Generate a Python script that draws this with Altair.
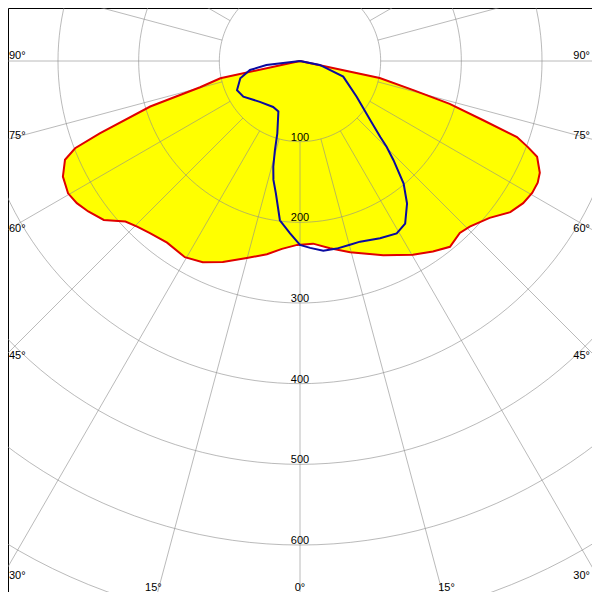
import altair as alt
import pandas as pd

# Luminous intensity (cd) vs angle gamma (deg, 0 = straight down, negative = left)
RED_ANGLES = [-90, -77.8, -75.3, -73.1, -70.1, -68.8, -67.2, -64.0, -60.3, -57.5,
              -54.6, -51.0, -47.4, -44.5, -41.1, -36.2, -30.4, -25.8, -21.0, -15.1,
              -9.7, -5.5, -0.9, 4.1, 9.1, 14.7, 23.2, 30.2, 34.9, 38.9,
              42.9, 45.7, 50.4, 54.3, 57.5, 60.4, 62.9, 65.0, 68.0, 69.3,
              70.7, 72.1, 74.0, 75.6, 78.0, 90]
RED_CD = [0, 101, 128, 194, 264, 299, 316, 327, 331, 328,
          322, 313, 294, 288, 283, 279, 282, 277, 267, 253,
          243, 234, 228, 227, 235, 245, 262, 278, 288, 296,
          291, 294, 305, 321, 328, 331, 331, 328, 317, 302,
          285, 238, 193, 145, 101, 0]

BLUE_ANGLES = [-90, -83.1, -79.8, -73.9, -65.2, -57.8, -44.5, -30.3, -23.2, -17.4,
               -15.7, -14.2, -12.6, -10.3, -7.2, -3.3, 0, 3.1, 7.0, 11.1,
               15.2, 18.4, 24.3, 29.3, 32.9, 36.9, 40.2, 43.3, 45.3, 46.6,
               49.9, 57.8, 70.1, 78.7, 90]
BLUE_CD = [0, 42, 63, 77, 86, 83, 71, 66, 68, 94,
           115, 135, 151, 167, 199, 214, 228, 232, 237, 237,
           236, 236, 241, 245, 240, 221, 199, 169, 151, 137,
           114, 83, 57, 25, 0]

GRID_RADII = [100, 200, 300, 400, 500, 600, 700, 800]
RING_LABELS = [100, 200, 300, 400, 500, 600]
SPOKE_ANGLES = list(range(0, 360, 15))
SIDE_ANGLES = [90, 75, 60, 45, 30]
BOTTOM_ANGLES = [-15, 0, 15]

# geometry of the view
PX_PER_CD = 0.8067
W = H = 584
CX, CY = 292, 53          # centre inside the view, px
XDOM = [-CX / PX_PER_CD, (W - CX) / PX_PER_CD]
YDOM = [-(H - CY) / PX_PER_CD, CY / PX_PER_CD]
EDGE_X = (CX + 8) / PX_PER_CD        # image edge (left/right)
EDGE_Y = (H - CY + 16) / PX_PER_CD   # image bottom edge

xs = alt.Scale(domain=XDOM, nice=False, zero=False)
ys = alt.Scale(domain=YDOM, nice=False, zero=False)
X = alt.X("x:Q", scale=xs, axis=None)
Y = alt.Y("y:Q", scale=ys, axis=None)

polar = dict(x="datum.cd * sin(datum.g * PI / 180)",
             y="-datum.cd * cos(datum.g * PI / 180)")

red = pd.DataFrame({"g": RED_ANGLES, "cd": RED_CD, "i": range(len(RED_CD))})
blue = pd.DataFrame({"g": BLUE_ANGLES, "cd": BLUE_CD, "i": range(len(BLUE_CD))})

circ = pd.DataFrame([{"cd": r, "g": a} for r in GRID_RADII for a in range(0, 361, 2)])
spokes = pd.DataFrame([{"cd": r, "g": a} for a in SPOKE_ANGLES for r in (100, 1200)])

fill = alt.Chart(red).transform_calculate(**polar).mark_line(
    fill="#ffff00", stroke="#ffff00", strokeWidth=0.5, clip=True
).encode(x=X, y=Y, order="i:Q")

circles = alt.Chart(circ).transform_calculate(**polar).mark_line(
    color="#8c8c8c", strokeWidth=1, opacity=0.6, clip=True
).encode(x=X, y=Y, detail="cd:N", order="g:Q")

rays = alt.Chart(spokes).transform_calculate(**polar).mark_line(
    color="#8c8c8c", strokeWidth=1, opacity=0.6, clip=True
).encode(x=X, y=Y, detail="g:N", order="cd:Q")

red_line = alt.Chart(red).transform_calculate(**polar).mark_line(
    color="#e00000", strokeWidth=2, clip=True
).encode(x=X, y=Y, order="i:Q")

blue_line = alt.Chart(blue).transform_calculate(**polar).mark_line(
    color="#0a0aa0", strokeWidth=2, clip=True
).encode(x=X, y=Y, order="i:Q")

font = "Liberation Sans"
txt = dict(font=font, fontSize=11, baseline="alphabetic", fill="#000000", opacity=1)

ring_txt = alt.Chart(pd.DataFrame({"cd": RING_LABELS})).transform_calculate(
    x="0", y="-datum.cd", label="format(datum.cd, 'd')"
).mark_text(align="center", dy=-1, **txt).encode(x=X, y=Y, text="label:N")

side_df = pd.DataFrame({"g": SIDE_ANGLES})
side_y = f"-{EDGE_X} * cos(datum.g * PI / 180) / sin(datum.g * PI / 180)"
left_txt = alt.Chart(side_df).transform_calculate(
    x=str(XDOM[0]), y=side_y, label="datum.g + '°'"
).mark_text(align="left", dx=1, dy=-2, **txt).encode(x=X, y=Y, text="label:N")
right_txt = alt.Chart(side_df).transform_calculate(
    x=str(XDOM[1]), y=side_y, label="datum.g + '°'"
).mark_text(align="right", dx=-2, dy=-2, **txt).encode(x=X, y=Y, text="label:N")
bottom_txt = alt.Chart(pd.DataFrame({"g": BOTTOM_ANGLES})).transform_calculate(
    x=f"{EDGE_Y} * tan(datum.g * PI / 180)", y=str(YDOM[0]),
    label="abs(datum.g) + '°'"
).mark_text(align="center", dy=-1, **txt).encode(x=X, y=Y, text="label:N")

chart = alt.layer(fill, circles, rays, red_line, blue_line, ring_txt,
                  left_txt, right_txt, bottom_txt).properties(
    width=W, height=H, padding=0, autosize=alt.AutoSizeParams(type="none"),
    background="white"
).configure_view(stroke="black", strokeWidth=1)

chart.save("out.html", embed_options={"renderer": "svg", "actions": False})
